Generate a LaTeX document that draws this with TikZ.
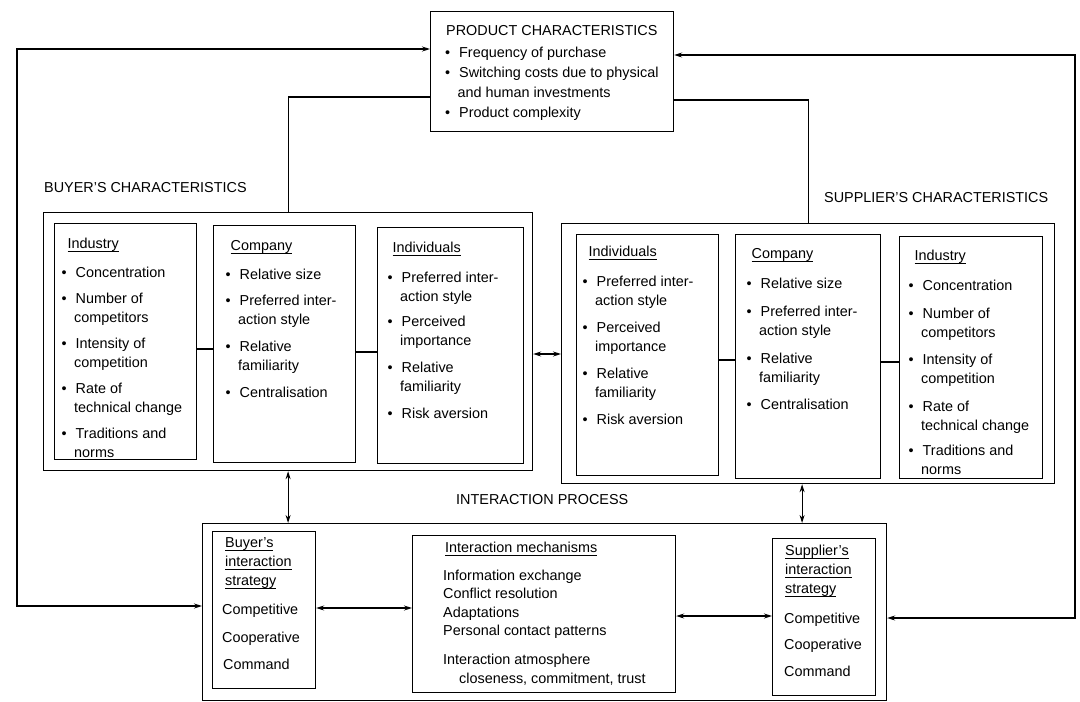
\documentclass[tikz,border=0pt]{standalone}
\usepackage{fontspec}
\setmainfont{Liberation Sans}
\usetikzlibrary{arrows.meta,calc}

% list helpers
\newcommand{\bitem}{\makebox[14pt][l]{\textbullet}}
\newcommand{\bcont}{\hspace*{12.5pt}}
\newcommand{\ulhd}[1]{\setbox0=\hbox{#1}\rlap{\rule[-4pt]{\wd0}{0.9pt}}\box0}

\begin{document}
\begin{tikzpicture}[x=1pt,y=-1pt,
  box/.style={draw, line width=1.2pt, inner sep=0pt, anchor=north west},
  txt/.style={inner sep=0pt, anchor=base west, font=\fontsize{14.4}{19}\selectfont},
  lnk/.style={line width=1.1pt},
  dbl/.style={line width=1.1pt, {Stealth[length=8pt,width=5pt]}-{Stealth[length=8pt,width=5pt]}}]

\useasboundingbox (0,0) rectangle (1080,702);

% ---------- boxes ----------
\node[box, minimum width=243pt, minimum height=120pt] (prod) at (430,11) {};

\node[box, minimum width=489pt, minimum height=258pt] (bout) at (43,212) {};
\node[box, minimum width=142pt, minimum height=236pt] (bind) at (54,223) {};
\node[box, minimum width=142pt, minimum height=237pt] (bcom) at (213,225) {};
\node[box, minimum width=146pt, minimum height=236pt] (bivd) at (377,227) {};

\node[box, minimum width=493pt, minimum height=260pt] (sout) at (561,223) {};
\node[box, minimum width=142pt, minimum height=241pt] (sivd) at (576,234) {};
\node[box, minimum width=145pt, minimum height=244pt] (scom) at (735,234) {};
\node[box, minimum width=143pt, minimum height=242pt] (sind) at (899,236) {};

\node[box, minimum width=684pt, minimum height=177pt] (iout) at (202,523) {};
\node[box, minimum width=103pt, minimum height=157pt] (bstr) at (212,531) {};
\node[box, minimum width=263pt, minimum height=157pt] (mech) at (412,535) {};
\node[box, minimum width=103pt, minimum height=157pt] (sstr) at (772,538) {};

% ---------- group titles ----------
\node[txt] (tbuy) at (44,192) {BUYER'S CHARACTERISTICS};
\node[txt] (tsup) at (824,202) {SUPPLIER'S CHARACTERISTICS};
\node[txt] (tint) at (456,504) {INTERACTION PROCESS};

% ---------- product characteristics ----------
\node[txt, font=\fontsize{14.4}{20}\selectfont] (tprod) at (445,35) {\parbox[t]{230pt}{%
\hspace*{1pt}PRODUCT CHARACTERISTICS\\[2pt]
\bitem Frequency of purchase\\
\bitem Switching costs due to physical\\
\bcont and human investments\\
\bitem Product complexity}};

% ---------- buyer's characteristics ----------
\node[txt] (tbind) at (61.5,248) {\parbox[t]{140pt}{%
\hspace*{6pt}\ulhd{Industry}\\[10pt]
\bitem Concentration\\[7pt]
\bitem Number of\\ \bcont competitors\\[7pt]
\bitem Intensity of\\ \bcont competition\\[7pt]
\bitem Rate of\\ \bcont technical change\\[7pt]
\bitem Traditions and\\ \bcont norms}};

\node[txt] (tbcom) at (225.5,250) {\parbox[t]{140pt}{%
\hspace*{5pt}\ulhd{Company}\\[10pt]
\bitem Relative size\\[7pt]
\bitem Preferred inter-\\ \bcont action style\\[8pt]
\bitem Relative\\ \bcont familiarity\\[8pt]
\bitem Centralisation}};

\node[txt] (tbivd) at (387.5,252) {\parbox[t]{140pt}{%
\hspace*{5pt}\ulhd{Individuals}\\[11pt]
\bitem Preferred inter-\\ \bcont action style\\[6pt]
\bitem Perceived\\ \bcont importance\\[8pt]
\bitem Relative\\ \bcont familiarity\\[8pt]
\bitem Risk aversion}};

% ---------- supplier's characteristics ----------
\node[txt] (tsivd) at (582.5,256) {\parbox[t]{140pt}{%
\hspace*{6pt}\ulhd{Individuals}\\[11pt]
\bitem Preferred inter-\\ \bcont action style\\[8pt]
\bitem Perceived\\ \bcont importance\\[8pt]
\bitem Relative\\ \bcont familiarity\\[8pt]
\bitem Risk aversion}};

\node[txt] (tscom) at (746.5,258) {\parbox[t]{140pt}{%
\hspace*{5pt}\ulhd{Company}\\[11pt]
\bitem Relative size\\[9pt]
\bitem Preferred inter-\\ \bcont action style\\[9pt]
\bitem Relative\\ \bcont familiarity\\[8pt]
\bitem Centralisation}};

\node[txt] (tsind) at (908.5,260) {\parbox[t]{140pt}{%
\hspace*{6pt}\ulhd{Industry}\\[11pt]
\bitem Concentration\\[9pt]
\bitem Number of\\ \bcont competitors\\[8pt]
\bitem Intensity of\\ \bcont competition\\[9pt]
\bitem Rate of\\ \bcont technical change\\[6pt]
\bitem Traditions and\\ \bcont norms}};

% ---------- interaction process ----------
\node[txt] (tbstr) at (222,547) {\parbox[t]{100pt}{%
\hspace*{3pt}\ulhd{Buyer's}\\
\hspace*{3pt}\ulhd{interaction}\\
\hspace*{3pt}\ulhd{strategy}\\[10pt]
Competitive\\[9pt]
Cooperative\\[8pt]
\hspace*{1pt}Command}};

\node[txt, font=\fontsize{14.4}{18.5}\selectfont] (tmech) at (443,552) {\parbox[t]{240pt}{%
\hspace*{2pt}\ulhd{Interaction mechanisms}\\[9.5pt]
Information exchange\\
Conflict resolution\\
Adaptations\\
Personal contact patterns\\[10.5pt]
Interaction atmosphere\\
\hspace*{16pt}closeness, commitment, trust}};

\node[txt] (tsstr) at (784,555) {\parbox[t]{100pt}{%
\hspace*{1pt}\ulhd{Supplier's}\\
\hspace*{1pt}\ulhd{interaction}\\
\hspace*{1pt}\ulhd{strategy}\\[11pt]
Competitive\\[7pt]
Cooperative\\[8pt]
Command}};

% ---------- connectors ----------
\coordinate (cL1) at (17,49);
\coordinate (cL2) at (17,606);
\coordinate (cR1) at (1075,55);
\coordinate (cR2) at (1075,618);
\coordinate (sdown) at ([xshift=-6pt]sout.south);

\draw[dbl] (prod.west |- cL1) -- (cL1) -- (cL2) -- (iout.west |- cL2);
\draw[dbl] (prod.east |- cR1) -- (cR1) -- (cR2) -- (iout.east |- cR2);

\draw[lnk] (prod.west |- 0,97) -| (bout.north);
\draw[lnk] (prod.east |- 0,100) -| (sout.north);

\draw[dbl] (bout.east |- 0,354) -- (sout.west |- 0,354);
\draw[dbl] (bout.south) -- (iout.north -| bout.south);
\draw[dbl] (sdown) -- (iout.north -| sdown);

\draw[dbl] (bstr.east |- 0,608) -- (mech.west |- 0,608);
\draw[dbl] (mech.east |- 0,616) -- (sstr.west |- 0,616);

\draw[lnk] (bind.east |- 0,349) -- (bcom.west |- 0,349);
\draw[lnk] (bcom.east |- 0,352) -- (bivd.west |- 0,352);
\draw[lnk] (sivd.east |- 0,360) -- (scom.west |- 0,360);
\draw[lnk] (scom.east |- 0,362) -- (sind.west |- 0,362);

\end{tikzpicture}
\end{document}
